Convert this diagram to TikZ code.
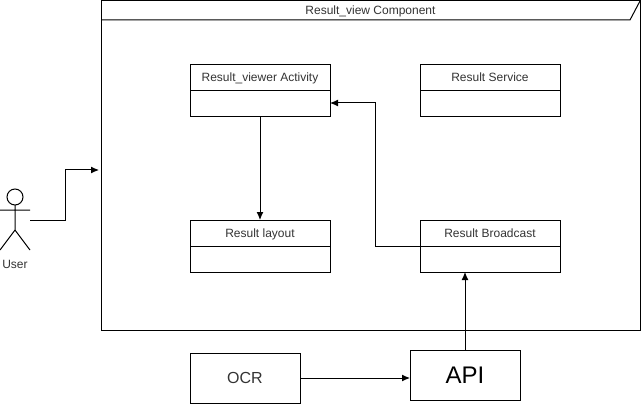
\documentclass[tikz,border=0pt]{standalone}
\usepackage{fontspec}
\setmainfont{Liberation Sans}
\usetikzlibrary{arrows.meta,positioning}
\tikzset{
  part/.style={draw,line width=1pt,minimum width=140pt,minimum height=26pt,inner sep=0pt,outer sep=0pt,text height=10pt,text depth=2pt,font=\fontsize{12}{14}\selectfont,text=black!80},
  tool/.style={draw,line width=1pt,minimum width=110pt,minimum height=50pt,inner sep=0pt,outer sep=0pt,text=black!80},
  link/.style={-{Latex[length=8pt,width=7pt]},line width=1pt},
  limb/.style={line width=1pt}
}
\begin{document}
\begin{tikzpicture}[x=1pt,y=-1pt]
  \useasboundingbox (0,0) rectangle (641,404);
  % component frame
  \node[draw,line width=1pt,minimum width=539pt,minimum height=329pt,inner sep=0pt,outer sep=0pt] (frame) at (370.5,165.5) {};
  \coordinate (tabend) at (630,20);
  \coordinate (tabstart) at (101,20);
  \draw[limb] (tabstart) -- (tabend) -- (frame.north east);
  \node[font=\fontsize{12}{14}\selectfont,text=black!80] (title) at (370.5,11.5) {Result\_view Component};
  % parts
  \node[part] (activity) at (260,78) {Result\_viewer Activity};
  \node[part,below=0pt of activity] (activitybody) {};
  \node[part] (service) at (490,78) {Result Service};
  \node[part,below=0pt of service] (servicebody) {};
  \node[part] (layout) at (260,233) {Result layout};
  \node[part,below=0pt of layout] (layoutbody) {};
  \node[part] (broadcast) at (490,233) {Result Broadcast};
  \node[part,below=0pt of broadcast] (broadcastbody) {};
  \node[tool,font=\fontsize{16}{19}\selectfont] (ocr) at (245,378) {OCR};
  \node[tool,font=\fontsize{24}{28}\selectfont,text=black] (api) at (465,375) {API};
  % user
  \node[draw,circle,line width=1pt,minimum size=16pt,inner sep=0pt,outer sep=0pt] (head) at (15,197) {};
  \coordinate (hip) at (15,230);
  \coordinate (armleft) at (0,210);
  \coordinate (armright) at (30,210);
  \coordinate (footleft) at (0,250);
  \coordinate (footright) at (30,250);
  \draw[limb] (head) -- (hip) (armleft) -- (armright) (footleft) -- (hip) -- (footright);
  \node[font=\fontsize{12}{14}\selectfont,text=black!80] (user) at (15,264) {User};
  % connectors
  \coordinate (userout) at (30,220);
  \coordinate (userbend) at (65,170);
  \coordinate (userin) at (99,170);
  \coordinate (returnbend) at (375,103);
  \draw[link] (userout) -| (userbend) -- (userin);
  \draw[link] (activitybody.south) -- (layout.north);
  \draw[link] (broadcast.south west) -| (returnbend) -- (activitybody.east |- returnbend);
  \draw[link] (api.north) -- (api.north |- broadcastbody.south);
  \draw[link] (ocr.east |- 0,378) -- (api.west |- 0,378);
\end{tikzpicture}
\end{document}
